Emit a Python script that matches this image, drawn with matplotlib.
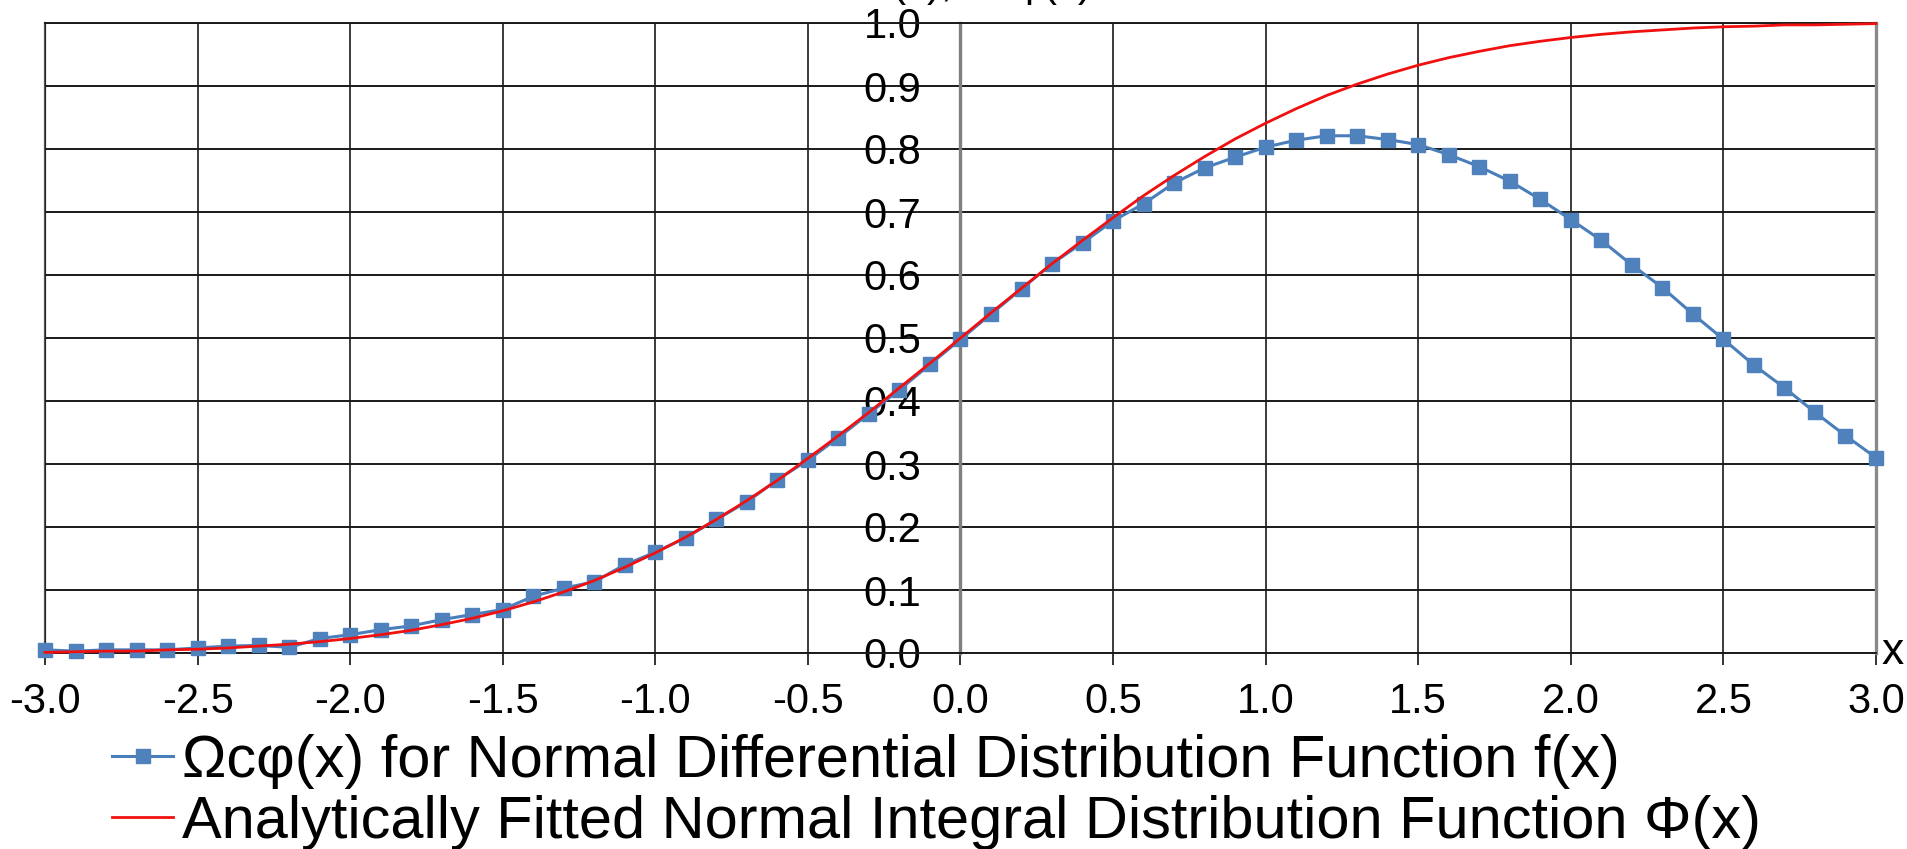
import matplotlib
matplotlib.use("Agg")
import matplotlib.pyplot as plt
from matplotlib.lines import Line2D
from matplotlib.ticker import MultipleLocator, FormatStrFormatter

plt.rcParams['font.family'] = ['Liberation Sans', 'DejaVu Sans']

# ---- data ----
x_vals = [round(-3.0 + 0.1 * i, 1) for i in range(61)]

omega_c_phi = [
    0.005, 0.003, 0.005, 0.005, 0.005, 0.008, 0.011, 0.012, 0.009, 0.023,
    0.029, 0.037, 0.043, 0.053, 0.061, 0.069, 0.090, 0.103, 0.113, 0.140,
    0.160, 0.183, 0.212, 0.240, 0.275, 0.306, 0.342, 0.380, 0.418, 0.458,
    0.498, 0.538, 0.578, 0.618, 0.651, 0.686, 0.713, 0.746, 0.770, 0.787,
    0.803, 0.814, 0.821, 0.821, 0.815, 0.807, 0.791, 0.772, 0.749, 0.720,
    0.688, 0.655, 0.616, 0.580, 0.538, 0.498, 0.457, 0.421, 0.382, 0.345,
    0.310,
]

phi_fitted = [
    0.001, 0.002, 0.003, 0.003, 0.005, 0.006, 0.008, 0.011, 0.014, 0.018,
    0.023, 0.029, 0.036, 0.045, 0.055, 0.067, 0.081, 0.097, 0.115, 0.136,
    0.159, 0.184, 0.212, 0.242, 0.274, 0.309, 0.345, 0.382, 0.421, 0.460,
    0.500, 0.540, 0.579, 0.618, 0.655, 0.691, 0.726, 0.758, 0.788, 0.816,
    0.841, 0.864, 0.885, 0.903, 0.919, 0.933, 0.945, 0.955, 0.964, 0.971,
    0.977, 0.982, 0.986, 0.989, 0.992, 0.994, 0.995, 0.997, 0.997, 0.998,
    0.999,
]

label_blue = "Ωcφ(x) for Normal Differential Distribution Function f(x)"
label_red = "Analytically Fitted Normal Integral Distribution Function Φ(x)"
y_title = "Φ(x), Ωcφ(x)"

# ---- figure ----
W, H, DPI = 1908, 849, 100
fig = plt.figure(figsize=(W / DPI, H / DPI), dpi=DPI)
L, R, T, B = 45, 1876, 23, 653
ax = fig.add_axes([L / W, (H - B) / H, (R - L) / W, (B - T) / H])
ax.set_xlim(-3, 3)
ax.set_ylim(0, 1)

ax.xaxis.set_major_locator(MultipleLocator(0.5))
ax.yaxis.set_major_locator(MultipleLocator(0.1))
ax.xaxis.set_major_formatter(FormatStrFormatter('%.1f'))
ax.yaxis.set_major_formatter(FormatStrFormatter('%.1f'))

ax.grid(True, which='major', axis='y', color='#1a1a1a', lw=1.4)
ax.grid(True, which='major', axis='x', color='#1a1a1a', lw=1.2)
ax.axvline(-3, color='#555555', lw=1.6, clip_on=False, zorder=1)

for s in ['top']:
    ax.spines[s].set_color('#1a1a1a')
    ax.spines[s].set_linewidth(1.4)
ax.spines['bottom'].set_color('#1a1a1a')
ax.spines['bottom'].set_linewidth(1.4)
ax.spines['left'].set_position(('data', 0))
ax.spines['left'].set_color('#808080')
ax.spines['left'].set_linewidth(2.4)
ax.spines['right'].set_color('#8a8a8a')
ax.spines['right'].set_linewidth(2.4)

ax.tick_params(axis='x', direction='out', length=8.6, width=1.4,
               color='#333333', labelsize=30, pad=12)
ax.tick_params(axis='y', length=0, labelsize=30, pad=28)

ax.plot(x_vals, omega_c_phi, color='#4A7EBB', lw=2.2, marker='s',
        markersize=9.5, markerfacecolor='#4F81BD', markeredgecolor='#4F81BD',
        zorder=3, clip_on=False)
ax.plot(x_vals, phi_fitted, color='#F01010', lw=2.0, zorder=4, clip_on=False)

ax.annotate('x', xy=(3, 0), xytext=(6, 0), textcoords='offset pixels',
            ha='left', va='center', fontsize=32)

fig.text(975 / W, 1 + 4 / H, y_title, ha='center', va='baseline', fontsize=30)

handles = [
    Line2D([], [], color='#4A7EBB', lw=2.2, marker='s', markersize=9.5,
           markerfacecolor='#4F81BD', markeredgecolor='#4F81BD'),
    Line2D([], [], color='#F01010', lw=2.0),
]
fig.legend(handles, [label_blue, label_red], loc='upper left',
           bbox_to_anchor=(112 / W, (H - 734) / H), frameon=False,
           fontsize=42.8, borderpad=0, borderaxespad=0, handlelength=1.03,
           handletextpad=0.15, labelspacing=0.1, numpoints=1)

fig.savefig('out.png', dpi=DPI)
